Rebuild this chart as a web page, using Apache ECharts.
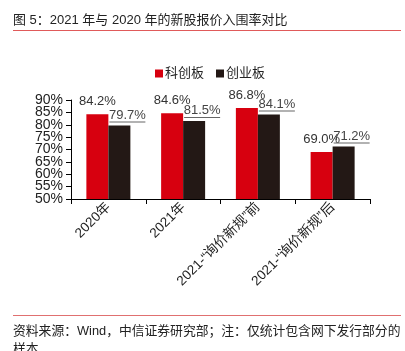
<!DOCTYPE html>
<html><head><meta charset="utf-8">
<script src="https://cdn.jsdelivr.net/npm/echarts@6/dist/echarts.min.js"></script>
<style>html,body{margin:0;padding:0;background:#fff;}#c{width:405px;height:351px;}</style>
</head><body><div id="c"></div>
<script>
const categories = ['2020年', '2021年', '2021-“询价新规”前', '2021-“询价新规”后'];
const kcb = [84.2, 84.6, 86.8, 69.0];
const cyb = [79.7, 81.5, 84.1, 71.2];
const seriesNames = ['科创板', '创业板'];
const yTickValues = [50, 55, 60, 65, 70, 75, 80, 85, 90];

const font = '"Liberation Sans", Arial, "Noto Sans CJK SC", sans-serif';
const yMin = yTickValues[0], yMax = yTickValues[yTickValues.length - 1];
const labelsA = yTickValues.filter((v, i) => i % 2 === 0);
const labelsB = yTickValues.filter((v, i) => i % 2 === 1);
const chart = echarts.init(document.getElementById('c'), null, { renderer: 'canvas' });
chart.setOption({
  animation: false,
  textStyle: { fontFamily: font },
  graphic: [
    { type: 'text', left: 13, top: 14, style: { text: '图 5：2021 年与 2020 年的新股报价入围率对比', font: '13px ' + font, fill: '#222' } },
    { type: 'line', shape: { x1: 13, y1: 30.5, x2: 401, y2: 30.5 }, style: { stroke: '#e05a5a', lineWidth: 1 } },
    { type: 'line', shape: { x1: 13, y1: 315.5, x2: 401, y2: 315.5 }, style: { stroke: '#e07070', lineWidth: 1 } },
    { type: 'text', left: 13, top: 325, style: { text: '资料来源：Wind，中信证券研究部；注：仅统计包含网下发行部分的', font: '12.8px ' + font, fill: '#222' } },
    { type: 'text', left: 13, top: 343, style: { text: '样本', font: '12.8px ' + font, fill: '#222' } }
  ],
  legend: {
    top: 62, left: 150, itemWidth: 8, itemHeight: 8, itemGap: 12,
    icon: 'rect',
    textStyle: { fontSize: 13, color: '#222', padding: [0, 0, 0, -3] },
    data: seriesNames
  },
  grid: { left: 71, right: 35, top: 100, bottom: 152 },
  xAxis: {
    type: 'category', data: categories,
    axisLine: { lineStyle: { color: '#000', width: 1 } },
    axisTick: { show: true, length: 5, lineStyle: { color: '#000' }, alignWithLabel: false },
    axisLabel: { rotate: 45, fontSize: 13.5, color: '#222', margin: 6, interval: 0 }
  },
  yAxis: [
    {
      type: 'value', min: yMin, max: yMax, interval: 5, position: 'left',
      axisLine: { show: true, lineStyle: { color: '#000', width: 1 } },
      axisTick: { show: true, inside: false, length: 5, lineStyle: { color: '#000' }, customValues: yTickValues },
      splitLine: { show: false },
      axisLabel: { formatter: v => v + '%', fontSize: 14, color: '#222', margin: 8,
        customValues: labelsA, showMinLabel: true, showMaxLabel: true }
    },
    {
      type: 'value', min: yMin, max: yMax, interval: 5, position: 'left', offset: 0,
      axisLine: { show: false }, axisTick: { show: false }, splitLine: { show: false },
      axisLabel: { formatter: v => v + '%', fontSize: 14, color: '#222', margin: 8,
        customValues: labelsB }
    }
  ],
  series: [
    {
      name: seriesNames[0], type: 'bar', data: kcb, barWidth: 22, barGap: '0%', yAxisIndex: 0,
      itemStyle: { color: '#d7000f' },
      label: { show: true, position: 'top', distance: 6, fontSize: 13, color: '#333',
        formatter: p => p.value.toFixed(1) + '%' }
    },
    {
      name: seriesNames[1], type: 'bar', data: cyb, barWidth: 22, yAxisIndex: 0,
      itemStyle: { color: '#231815' },
      label: { show: true, position: 'top', distance: 3, offset: [8, 0], fontSize: 13, color: '#444',
        formatter: p => '{a|' + p.value.toFixed(1) + '%}\n{u|}',
        rich: { a: { fontSize: 13, color: '#444', lineHeight: 13 }, u: { width: 36, height: 1, lineHeight: 1, backgroundColor: '#666' } } }
    }
  ]
});
</script></body></html>
